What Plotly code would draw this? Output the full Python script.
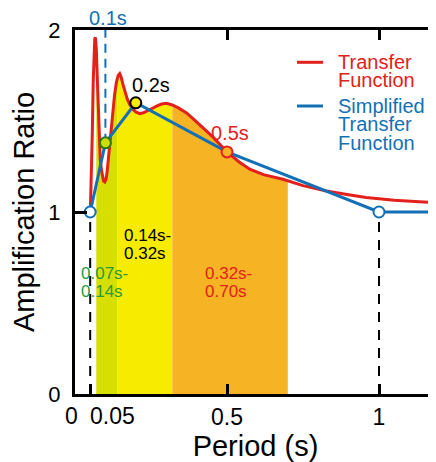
import numpy as np
import plotly.graph_objects as go

# ---------------- data ----------------
period_tf = [0.050, 0.054, 0.057, 0.060, 0.0625, 0.065, 0.067, 0.070, 0.072, 0.075,
             0.077, 0.080, 0.083, 0.087, 0.090, 0.094, 0.098, 0.102, 0.105, 0.110,
             0.114, 0.120, 0.125, 0.130, 0.136, 0.142, 0.147, 0.152, 0.158, 0.165,
             0.172, 0.180, 0.190, 0.200, 0.213, 0.225, 0.240, 0.255, 0.270, 0.285,
             0.300, 0.320, 0.340, 0.366, 0.390, 0.410, 0.430, 0.455, 0.480, 0.500,
             0.540, 0.575, 0.620, 0.684, 0.750, 0.827, 0.900, 0.958, 1.050, 1.120, 1.200]
ratio_tf = [0.97, 1.20, 1.44, 1.72, 1.89, 1.95, 1.96, 1.90, 1.80, 1.65,
            1.53, 1.38, 1.29, 1.23, 1.20, 1.17, 1.165, 1.18, 1.21, 1.30,
            1.37, 1.48, 1.56, 1.64, 1.71, 1.75, 1.76, 1.74, 1.70, 1.66,
            1.62, 1.59, 1.565, 1.55, 1.54, 1.545, 1.556, 1.57, 1.583, 1.593,
            1.597, 1.588, 1.572, 1.546, 1.51, 1.48, 1.445, 1.41, 1.365, 1.33,
            1.275, 1.235, 1.205, 1.18, 1.145, 1.115, 1.095, 1.08, 1.065, 1.057, 1.05]

period_stf = [0.05, 0.1, 0.2, 0.5, 1.0, 1.2]
ratio_stf = [1.0, 1.38, 1.60, 1.33, 1.0, 1.0]

key_period = [0.05, 0.1, 0.2, 0.5, 1.0]
key_ratio = [1.0, 1.38, 1.60, 1.33, 1.0]

bands = [(0.07, 0.14), (0.14, 0.32), (0.32, 0.70)]
band_labels = [("0.07s-", "0.14s"), ("0.14s-", "0.32s"), ("0.32s-", "0.70s")]
point_labels = ["0.1s", "0.2s", "0.5s"]
x_ticks = [0.05, 0.5, 1]
x_ticktext = ["", "0.5", "1"]
y_ticks = [0, 1, 2]

# ---------------- style ----------------
RED = "#e4201c"
BLUE = "#1470b6"
GREEN_TXT = "#2a9a3c"
band_colors = ["#d6df00", "#f7eb00", "#f6b324"]
FONT = "Liberation Sans, Arial, sans-serif"

OFF = 8  # page body margin of the browser
W, H = 436 - OFF, 462 - OFF
L, R, T, B = 75 - OFF, 0, 30 - OFF, 68
PW, PH = W - L - R, H - T - B
XMAX = 1.1875


def px(x):  # screen pixel -> paper coord
    return (x - OFF - L) / PW


def py(y):
    return (H - B - (y - OFF)) / PH


fig = go.Figure()

# shaded bands under the transfer function
pt = np.array(period_tf)
rt = np.array(ratio_tf)
for (a, b), col in zip(bands, band_colors):
    inside = (pt > a) & (pt < b)
    xs = np.concatenate([[a], pt[inside], [b]])
    ys = np.interp(xs, pt, rt)
    fig.add_trace(go.Scatter(x=xs, y=ys, mode="lines", fill="tozeroy",
                             fillcolor=col, line=dict(width=0, color=col),
                             hoverinfo="skip", showlegend=False))

# dashed guide lines
fig.add_trace(go.Scatter(x=[key_period[0], key_period[0]], y=[0, key_ratio[0]], mode="lines",
                         line=dict(color="black", width=2, dash="10px,8px"), showlegend=False))
fig.add_trace(go.Scatter(x=[key_period[4], key_period[4]], y=[0, key_ratio[4]], mode="lines",
                         line=dict(color="black", width=2, dash="10px,8px"), showlegend=False))
fig.add_trace(go.Scatter(x=[key_period[1], key_period[1]], y=[key_ratio[1], 2], mode="lines",
                         line=dict(color=BLUE, width=2, dash="9px,6px"), showlegend=False))

# transfer function
fig.add_trace(go.Scatter(x=period_tf, y=ratio_tf, mode="lines",
                         line=dict(color=RED, width=3), name="Transfer Function",
                         showlegend=False))
# simplified transfer function
fig.add_trace(go.Scatter(x=period_stf, y=ratio_stf, mode="lines",
                         line=dict(color=BLUE, width=3), name="Simplified Transfer Function",
                         showlegend=False))
# key points
fig.add_trace(go.Scatter(x=key_period, y=key_ratio, mode="markers",
                         marker=dict(size=11,
                                     color=["white", "#cfdc00", "#f7eb00", "#f6b324", "white"],
                                     line=dict(width=2, color=[BLUE, "#2a7a1c", "black", RED, BLUE])),
                         showlegend=False, cliponaxis=False))

ann = []


def add_text(text, x, y, color, size, xanchor="center"):
    ann.append(dict(text=text, x=px(x), y=py(y), xref="paper", yref="paper",
                    xanchor=xanchor, yanchor="middle", showarrow=False,
                    font=dict(family=FONT, size=size, color=color)))


# point labels
add_text(point_labels[0], 108, 18, BLUE, 20)
add_text(point_labels[1], 151, 85, "black", 20)
add_text(point_labels[2], 230, 133, RED, 20)

# band labels
band_txt_colors = [GREEN_TXT, "black", RED]
band_pos = [(79, 273.5), (122, 235), (203, 273.5)]
for (l1, l2), c, (bx, by) in zip(band_labels, band_txt_colors, band_pos):
    add_text(l1, bx, by, c, 17, "left")
    add_text(l2, bx, by + 18.3, c, 17, "left")

# custom x tick labels near origin
add_text("0", 71, 416, "black", 23)
add_text("0.05", 112, 416, "black", 23)

# legend
add_text("Transfer", 336, 62, RED, 20, "left")
add_text("Function", 336, 80, RED, 20, "left")
add_text("Simplified", 336, 106, BLUE, 20, "left")
add_text("Transfer", 336, 124.5, BLUE, 20, "left")
add_text("Function", 336, 143, BLUE, 20, "left")

shapes = [
    dict(type="line", xref="paper", yref="paper", x0=px(297), x1=px(323), y0=py(62.3), y1=py(62.3),
         line=dict(color=RED, width=3)),
    dict(type="line", xref="paper", yref="paper", x0=px(297), x1=px(323), y0=py(106), y1=py(106),
         line=dict(color=BLUE, width=3)),
]

fig.update_layout(
    width=W, height=H,
    margin=dict(l=L, r=R, t=T, b=B, autoexpand=False),
    paper_bgcolor="white", plot_bgcolor="white",
    font=dict(family=FONT, color="black"),
    showlegend=False,
    annotations=ann, shapes=shapes,
    xaxis=dict(range=[0, XMAX], showgrid=False, zeroline=False, showline=True,
               linecolor="black", linewidth=3, ticks="inside", ticklen=10, tickwidth=3,
               tickcolor="black", tickvals=x_ticks, ticktext=x_ticktext,
               tickfont=dict(size=23), title=dict(text="Period (s)", font=dict(size=29), standoff=6)),
    xaxis2=dict(range=[0, XMAX], overlaying="x", side="top", anchor="y", showgrid=False,
                zeroline=False, showline=True, linecolor="black", linewidth=3, ticks="inside",
                ticklen=10, tickwidth=3, tickcolor="black", tickvals=[0.5, 1], showticklabels=False),
    yaxis=dict(range=[0, 2], showgrid=False, zeroline=False, showline=True,
               linecolor="black", linewidth=3, ticks="inside", ticklen=12, tickwidth=3,
               tickcolor="black", tickvals=y_ticks, tickfont=dict(size=22), ticklabelstandoff=7,
               title=dict(text="Amplification Ratio", font=dict(size=29), standoff=12)),
    yaxis2=dict(range=[0, 2], overlaying="y", side="right", anchor="x", showgrid=False,
                zeroline=False, showline=False, ticks="inside", ticklen=8, tickwidth=3,
                tickcolor="black", tickvals=[1], showticklabels=False),
)
# dummy trace to activate secondary axes
fig.add_trace(go.Scatter(x=[0], y=[0], xaxis="x2", yaxis="y2", mode="markers",
                         marker=dict(size=1, opacity=0), hoverinfo="skip", showlegend=False))

fig.write_html("out.html")
